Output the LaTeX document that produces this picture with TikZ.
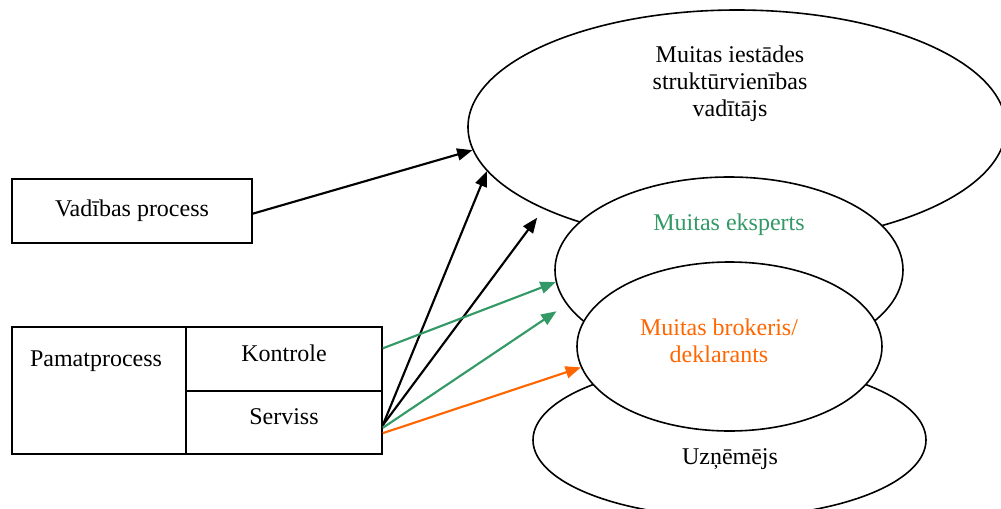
\documentclass[tikz,border=0pt]{standalone}
\usepackage{fontspec}
\setmainfont{Liberation Serif}
\usetikzlibrary{shapes.geometric,arrows.meta}
\definecolor{sea}{HTML}{339966}
\definecolor{tang}{HTML}{FF6600}
\begin{document}
\begin{tikzpicture}[x=0.75pt,y=-0.75pt,
  lbl/.style={font=\fontsize{18pt}{20.25pt}\selectfont, align=center, inner sep=0pt},
  box/.style={draw, line width=1.2pt, rectangle, inner sep=0pt,
    font=\fontsize{18pt}{20.25pt}\selectfont},
  cell/.style={box, text depth=9pt},
  oval/.style={draw, line width=1.2pt, ellipse, fill=white, inner sep=0pt},
  arr/.style={line width=1.6pt, -{Triangle[length=11.5pt,width=9pt]}}]
\useasboundingbox (0,0) rectangle (1001,508);
\clip (0,0) rectangle (1001,508);

% actors (ovals), back to front
\node[oval, minimum width=403.5pt, minimum height=175.5pt] (head) at (737,127) {};
\node[lbl] (headtxt) at (730,84) {Muitas iestādes\\struktūrvienības\\vadītājs};
\node[oval, minimum width=261pt, minimum height=139.5pt] (exp) at (729,270) {};
\node[lbl, text=sea] (exptxt) at (729,225) {Muitas eksperts};
\node[oval, minimum width=294.75pt, minimum height=115.5pt] (ent) at (729.5,440) {};
\node[lbl] (enttxt) at (730,459) {Uzņēmējs};
\node[oval, minimum width=228.75pt, minimum height=126.75pt] (brk) at (729.5,346.5) {};
\node[lbl, text=tang] (brktxt) at (719,341) {Muitas brokeris/\\deklarants};

% processes
\node[box, minimum width=180pt, minimum height=48pt] (vad) at (132,211) {Vadības process};
\node[box, minimum width=130.5pt, minimum height=95.25pt] (pam) at (99,390.5) {};
\node[lbl] (pamtxt) at (96,361) {Pamatprocess};
\node[cell, minimum width=147pt, minimum height=48pt] (kon) at (284,359) {Kontrole};
\node[cell, minimum width=147pt, minimum height=47.25pt] (srv) at (284,422.5) {Serviss};

% links
\draw[arr] ([yshift=-2pt]vad.east) -- (head.185.5);
\draw[arr] ([yshift=-2pt]srv.east) -- (head.190.6);
\draw[arr, shorten >=8pt] ([yshift=-2pt]srv.east) -- (head.203.2);
\draw[arr, sea] ([yshift=8pt]kon.east) -- (exp.184.9);
\draw[arr, sea, shorten >=9pt] ([yshift=-4pt]srv.east) -- (exp.192);
\draw[arr, tang] ([yshift=-8pt]srv.east) -- (brk.188.4);
\end{tikzpicture}
\end{document}
